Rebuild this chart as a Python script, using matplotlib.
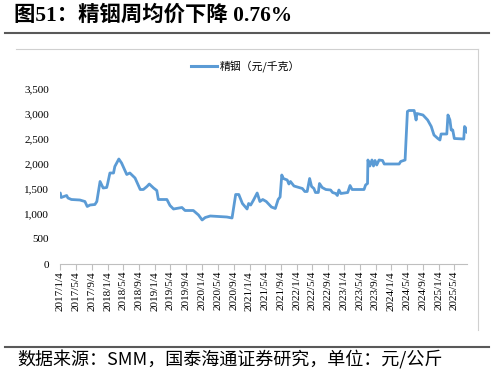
import matplotlib
matplotlib.use("Agg")
import matplotlib.pyplot as plt
from matplotlib.lines import Line2D
import pandas as pd

dates = [
    "2017-01-04", "2017-01-11", "2017-02-22", "2017-03-04", "2017-03-31", "2017-06-04",
    "2017-07-13", "2017-07-31", "2017-08-22", "2017-09-28", "2017-10-13", "2017-11-07",
    "2017-12-01", "2017-12-28", "2018-01-04", "2018-01-22", "2018-02-19", "2018-03-01",
    "2018-04-01", "2018-04-22", "2018-06-01", "2018-06-25", "2018-08-04", "2018-09-13",
    "2018-10-07", "2018-11-04", "2018-11-22", "2018-12-25", "2019-01-19", "2019-01-31",
    "2019-04-07", "2019-05-01", "2019-05-28", "2019-08-01", "2019-08-25", "2019-10-28",
    "2019-12-07", "2020-01-04", "2020-01-28", "2020-03-07", "2020-07-13", "2020-08-22",
    "2020-09-19", "2020-10-13", "2020-11-10", "2020-12-16", "2020-12-28", "2021-01-13",
    "2021-02-04", "2021-03-04", "2021-03-25", "2021-04-16", "2021-05-13", "2021-06-22",
    "2021-07-22", "2021-08-13", "2021-08-28", "2021-09-10", "2021-09-22", "2021-10-22",
    "2021-11-04", "2021-11-16", "2021-12-13", "2022-02-16", "2022-03-07", "2022-03-25",
    "2022-04-13", "2022-04-28", "2022-05-16", "2022-05-28", "2022-06-19", "2022-06-28",
    "2022-07-19", "2022-08-16", "2022-09-22", "2022-10-07", "2022-10-31", "2022-11-13",
    "2022-11-25", "2022-12-10", "2023-02-01", "2023-02-19", "2023-03-07", "2023-06-07",
    "2023-06-19", "2023-07-04", "2023-07-07", "2023-07-22", "2023-08-07", "2023-08-19",
    "2023-08-31", "2023-09-13", "2023-10-01", "2023-10-28", "2023-11-10", "2024-03-04",
    "2024-03-16", "2024-04-19", "2024-04-25", "2024-05-07", "2024-05-19", "2024-06-28",
    "2024-07-13", "2024-07-19", "2024-09-04", "2024-10-10", "2024-11-07", "2024-11-28",
    "2024-12-28", "2025-01-13", "2025-01-22", "2025-03-07", "2025-03-16", "2025-03-31",
    "2025-04-10", "2025-04-22", "2025-05-04", "2025-07-16", "2025-07-22", "2025-07-31",
    "2025-08-10",
]
prices = [
    1420, 1330, 1370, 1320, 1290, 1280,
    1250, 1150, 1180, 1190, 1250, 1650,
    1520, 1530, 1600, 1820, 1820, 1950,
    2100, 2020, 1790, 1820, 1720, 1490,
    1490, 1550, 1600, 1520, 1470, 1290,
    1290, 1170, 1100, 1130, 1070, 1070,
    980, 880, 930, 960, 940, 920,
    1390, 1390, 1210, 1100, 1210, 1180,
    1280, 1420, 1250, 1290, 1250, 1140,
    1110, 1290, 1340, 1780, 1710, 1680,
    1600, 1650, 1560, 1510, 1450, 1450,
    1710, 1550, 1510, 1430, 1430, 1610,
    1530, 1490, 1480, 1430, 1410, 1370,
    1480, 1410, 1430, 1570, 1490, 1490,
    1580, 1610, 2080, 1960, 2080, 1960,
    2070, 1980, 2080, 2070, 2000, 2000,
    2050, 2080, 2410, 3050, 3070, 3070,
    2880, 3010, 2980, 2880, 2750, 2580,
    2510, 2480, 2600, 2600, 2980, 2880,
    2680, 2680, 2510, 2500, 2750, 2720,
    2630,
]
tick_labels = [f"{y}/{m}/4" for y in range(2017, 2026) for m in (1, 5, 9)][:26]
yticks = [0, 500, 1000, 1500, 2000, 2500, 3000, 3500]
ytick_labels = ["0", "500", "1,000", "1,500", "2,000", "2,500", "3,000", "3,500"]
series_name = "精铟（元/千克）"
title = "图51：精铟周均价下降 0.76%"
source = "数据来源：SMM，国泰海通证券研究，单位：元/公斤"

SERIF = ["Liberation Serif", "Noto Sans CJK SC"]
CJK = ["Noto Sans CJK SC", "Liberation Serif"]
BLUE = "#5B9BD5"

W, H = 494, 377
fig = plt.figure(figsize=(W / 100, H / 100), dpi=100)
fig.patch.set_facecolor("white")

ax = fig.add_axes([60.3 / W, 1 - 264 / H, (467 - 60.3) / W, (264 - 89) / H])
x = pd.to_datetime(dates)
ax.plot(x, prices, color=BLUE, lw=2.0, solid_joinstyle="round", solid_capstyle="round")
ax.set_xlim(pd.Timestamp("2017-01-04"), pd.Timestamp("2025-08-10"))
ax.set_ylim(0, 3500)
ax.set_yticks(yticks)
ax.set_yticklabels(ytick_labels, family=SERIF, fontsize=8)
tick_pos = pd.to_datetime([lbl.replace("/", "-") for lbl in tick_labels], format="%Y-%m-%d")
ax.set_xticks(tick_pos)
ax.set_xticklabels(tick_labels, rotation=90, family=SERIF, fontsize=8)
for s in ["top", "right", "left"]:
    ax.spines[s].set_visible(False)
ax.spines["bottom"].set_color("#BFBFBF")
ax.spines["bottom"].set_linewidth(0.8)
ax.tick_params(axis="y", length=0, pad=8)
ax.tick_params(axis="x", length=4, color="#BFBFBF", width=0.8, pad=1)

# legend
fig.legend(handles=[Line2D([], [], color=BLUE, lw=2.2)], labels=[series_name],
           loc="center", bbox_to_anchor=(245.5 / W, 1 - 66 / H), frameon=False,
           handlelength=2.4, handletextpad=0.2, prop={"family": CJK, "size": 7.8})

# title
fig.text(14 / W, 1 - 16 / H, title, family=SERIF, fontsize=15.4, fontweight="bold",
         va="center", ha="left")
# separator lines
fig.add_artist(Line2D([5 / W, 489 / W], [1 - 33 / H] * 2, color="#595959", lw=1.5))
fig.add_artist(Line2D([5 / W, 489 / W], [1 - 347 / H] * 2, color="#595959", lw=1.5))
# chart frame (top and right)
fig.add_artist(Line2D([16 / W, 478 / W], [1 - 49 / H] * 2, color="#D0D0D0", lw=0.8))
fig.add_artist(Line2D([478 / W, 478 / W], [1 - 49 / H, 1 - 330 / H], color="#D0D0D0", lw=0.8))
# source
fig.text(17 / W, 1 - 360 / H, source, family=CJK, fontsize=13, va="center", ha="left")

fig.savefig("out.png", dpi=100)
